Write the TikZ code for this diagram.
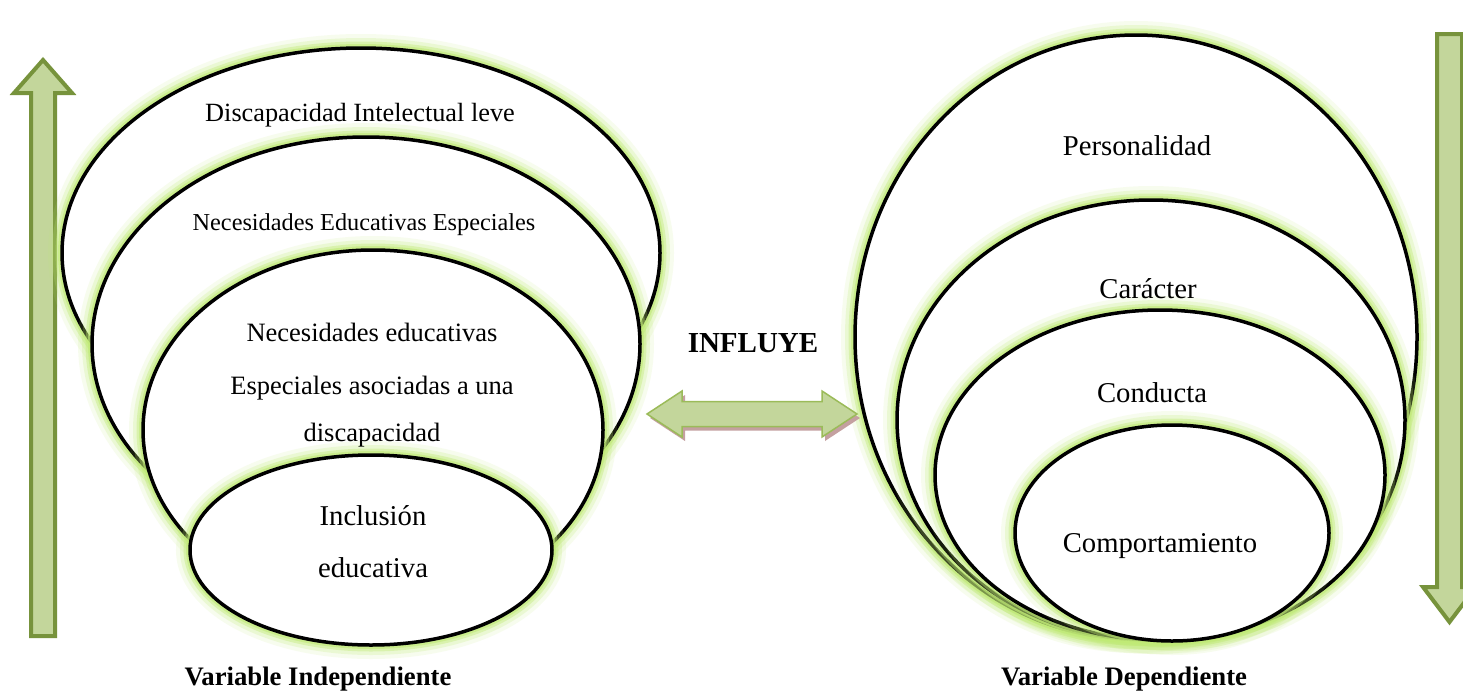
\documentclass[tikz,border=0pt]{standalone}
\usepackage{fontspec}
\setmainfont{Liberation Serif}
\usetikzlibrary{shapes.geometric, positioning}
\definecolor{glowgreen}{RGB}{192,234,118}
\definecolor{olivefill}{RGB}{195,214,155}
\definecolor{olivedraw}{RGB}{119,147,60}
\definecolor{arrowline}{RGB}{155,187,89}
\definecolor{shadowrose}{RGB}{196,160,160}
\tikzset{
    x=1pt, y=-1pt,
    capa/.style={ellipse, draw=black, line width=3.5pt, fill=white, inner sep=0pt,
        preaction={draw=glowgreen, line width=28pt, opacity=.12},
        preaction={draw=glowgreen, line width=20pt, opacity=.22},
        preaction={draw=glowgreen, line width=13pt, opacity=.4},
        preaction={draw=glowgreen, line width=8pt, opacity=.6}},
    texto/.style={anchor=base, inner sep=0pt, font=\fontsize{#1}{#1}\selectfont},
    titulo/.style={anchor=base, inner sep=0pt, font=\bfseries\fontsize{#1}{#1}\selectfont},
    flecha/.style={fill=olivefill, draw=olivedraw, line width=4pt, line join=miter},
    doble/.style={fill=olivefill, draw=arrowline, line width=1.5pt, line join=miter}
}

\begin{document}
\begin{tikzpicture}
    \clip (0,0) rectangle (1463,696);
    \fill[white] (0,0) rectangle (1463,696);

    \draw[flecha] (31,636) -- (31,93) -- (14,93) -- (43,60) -- (72,93) -- (55,93) -- (55,636) -- cycle;
    \draw[flecha] (1437,34) -- (1437,587) -- (1423,587) -- (1449.5,622) -- (1476,587) -- (1462,587) -- (1462,34) -- cycle;

    \node[capa, minimum width=598pt, minimum height=410pt] (i1) at (361,253) {};
    \node[capa, minimum width=548pt, minimum height=414pt] (i2) at (366,344) {};
    \node[capa, minimum width=460pt, minimum height=360pt] (i3) at (373,430) {};
    \node[capa, minimum width=362pt, minimum height=190pt] (i4) at (371,550) {};

    \node[capa, minimum width=562pt, minimum height=604pt] (d1) at (1136,337) {};
    \node[capa, minimum width=508pt, minimum height=440pt] (d2) at (1151,420) {};
    \node[capa, minimum width=450pt, minimum height=330pt] (d3) at (1160,475) {};
    \node[capa, minimum width=314pt, minimum height=216pt] (d4) at (1172,533) {};

    \node[texto=26.3] (ti1) at (360,121) {Discapacidad Intelectual leve};
    \node[texto=24.3] (ti2) at (364,230) {Necesidades Educativas Especiales};
    \node[texto=26.5] (ti3a) at (372,341) {Necesidades educativas};
    \node[texto=26.5] (ti3b) at (372,394) {Especiales asociadas a una};
    \node[texto=26.5] (ti3c) at (372,441) {discapacidad};
    \node[texto=28.7] (ti4a) at (373,525) {Inclusión};
    \node[texto=28.7] (ti4b) at (373,577) {educativa};

    \node[texto=28.7] (td1) at (1137,155) {Personalidad};
    \node[texto=28.7] (td2) at (1148,298) {Carácter};
    \node[texto=28.7] (td3) at (1152,402) {Conducta};
    \node[texto=28.7] (td4) at (1160,552) {Comportamiento};

    \node[titulo=29] (influye) at (753,352) {INFLUYE};
    \fill[shadowrose] (650,418) -- (685,395) -- (685,405.5) -- (825,405.5) -- (825,395) -- (860,418) -- (825,441) -- (825,430.5) -- (685,430.5) -- (685,441) -- cycle;
    \draw[doble] (647,414) -- (682,391) -- (682,401.5) -- (822,401.5) -- (822,391) -- (857,414) -- (822,437) -- (822,426.5) -- (682,426.5) -- (682,437) -- cycle;

    \node[titulo=26.7] (vi) at (318,685) {Variable Independiente};
    \node[titulo=26.7] (vd) at (1124,685) {Variable Dependiente};
\end{tikzpicture}
\end{document}
